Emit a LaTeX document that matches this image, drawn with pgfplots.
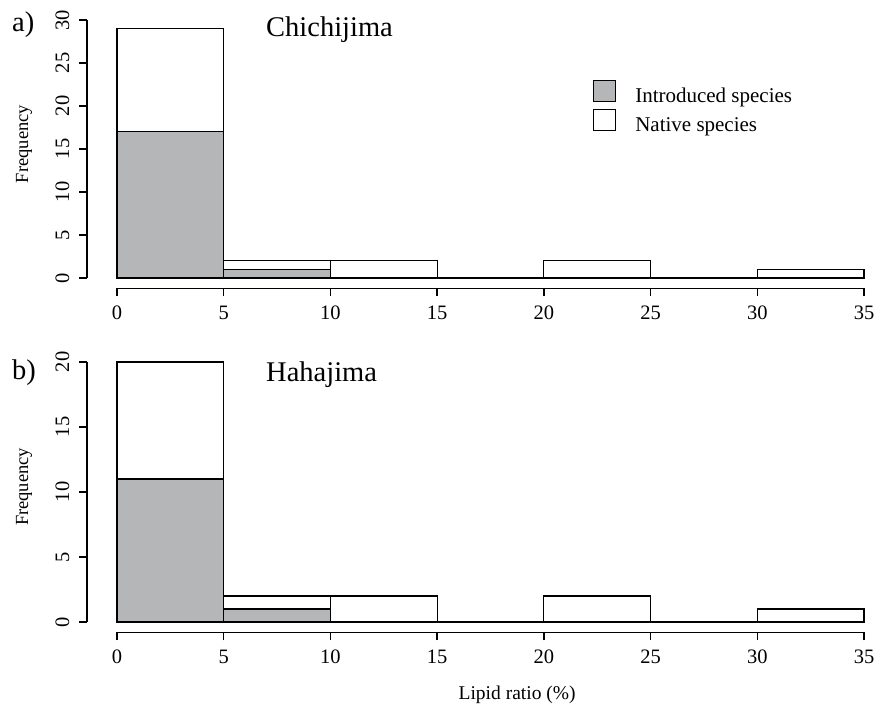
\documentclass[border=0pt]{standalone}
\usepackage{pgfplots}
\pgfplotsset{compat=1.18}
\usepackage{fontspec}
\setmainfont{Liberation Serif}
\definecolor{intro}{RGB}{181,182,184}
\pgfplotsset{
  rhist/.style={
    scale only axis, width=806.8pt,
    xmin=-1.4, xmax=36.4,
    axis line style={draw=none},
    xtick={0,5,...,35},
    xtick pos=bottom, ytick pos=left,
    tick align=outside,
    major tick length=8pt,
    tick style={black, line width=1.4pt},
    /pgf/number format/assume math mode=true,
    ticklabel style={font=\fontsize{20.5}{24}\selectfont},
    xticklabel style={yshift=-6pt},
    yticklabel style={rotate=90, anchor=south, inner ysep=9.5pt},
    clip=false,
    every axis y label/.style={at={(axis description cs:-0.078,0.518)}, rotate=90, anchor=center,
      font=\fontsize{18.5}{22}\selectfont},
    legend image code/.code={\draw[##1] (0pt,-6pt) rectangle (22pt,15pt);},
  },
}
\begin{document}
\begin{tikzpicture}[x=1pt,y=1pt]
\begin{axis}[rhist, at={(87.1pt,419.7pt)}, anchor=south west, height=278.6pt,
  ymin=-1.2, ymax=31.2, ytick={0,5,...,30}, ylabel={Frequency},
  legend style={draw=none, fill=none, inner sep=0pt,
    at={(axis description cs:0.627,0.7477)}, anchor=north west,
    font=\fontsize{21}{25}\selectfont, row sep=5.5pt,
    nodes={inner sep=0pt},
    /tikz/every odd column/.append style={column sep=19pt}},
  legend cell align=left]
\addlegendimage{fill=intro, draw=black, line width=1.1pt}
\addlegendentry{Introduced species}
\addlegendimage{fill=white, draw=black, line width=1.1pt}
\addlegendentry{Native species}
\addplot[ybar interval, fill=white, draw=black, line width=1.1pt, forget plot]
  coordinates {(0,29)(5,2)(10,2)(15,0)(20,2)(25,0)(30,1)(35,1)};
\addplot[ybar interval, fill=intro, draw=black, line width=1.1pt, forget plot]
  coordinates {(0,17)(5,1)(10,0)(15,0)(20,0)(25,0)(30,0)(35,0)};
\draw[line width=1.4pt] (axis cs:0,-1.2) -- (axis cs:35,-1.2);
\draw[line width=1.4pt] (axis cs:-1.4,0) -- (axis cs:-1.4,30);
\end{axis}
\begin{axis}[rhist, at={(87.1pt,75.6pt)}, anchor=south west, height=280.8pt,
  ymin=-0.8, ymax=20.8, ytick={0,5,...,20}, ylabel={Frequency},
  xlabel={Lipid ratio (\%)},
  every axis x label/.style={at={(axis description cs:0.533,-0.2394)}, anchor=base,
    font=\fontsize{19.5}{23}\selectfont}]
\addplot[ybar interval, fill=white, draw=black, line width=1.1pt]
  coordinates {(0,20)(5,2)(10,2)(15,0)(20,2)(25,0)(30,1)(35,1)};
\addplot[ybar interval, fill=intro, draw=black, line width=1.1pt]
  coordinates {(0,11)(5,1)(10,0)(15,0)(20,0)(25,0)(30,0)(35,0)};
\draw[line width=1.4pt] (axis cs:0,-0.8) -- (axis cs:35,-0.8);
\draw[line width=1.4pt] (axis cs:-1.4,0) -- (axis cs:-1.4,20);
\end{axis}
\node[anchor=base west, inner sep=0pt, font=\fontsize{28.5}{32}\selectfont] at (266,671.3) {Chichijima};
\node[anchor=base west, inner sep=0pt, font=\fontsize{28.5}{32}\selectfont] at (12,676) {a)};
\node[anchor=base west, inner sep=0pt, font=\fontsize{28.5}{32}\selectfont] at (266,326.3) {Hahajima};
\node[anchor=base west, inner sep=0pt, font=\fontsize{28.5}{32}\selectfont] at (12,328) {b)};
\pgfresetboundingbox
\useasboundingbox (0,0) rectangle (879,708);
\end{tikzpicture}
\end{document}
